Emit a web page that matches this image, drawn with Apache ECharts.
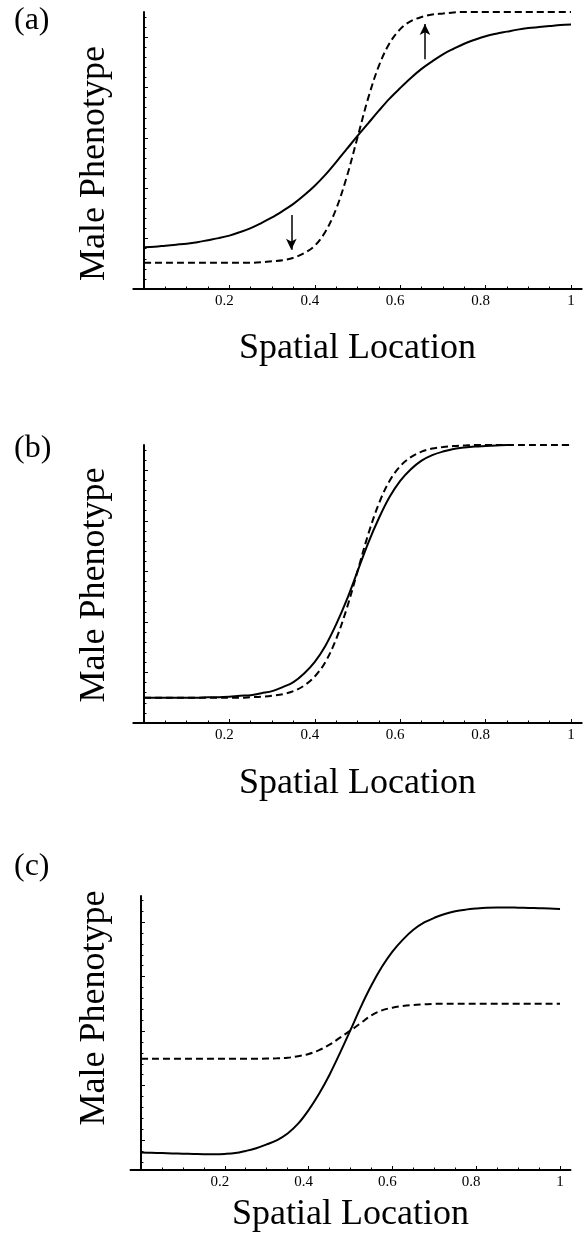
<!DOCTYPE html>
<html><head><meta charset="utf-8">
<script src="https://cdn.jsdelivr.net/npm/echarts@6/dist/echarts.min.js"></script>
<style>html,body{margin:0;padding:0;background:#fff}#c{width:584px;height:1235px}</style>
</head><body><div id="c"></div>
<script>
// shared x sample positions (Spatial Location)
const xs = [0,0.025,0.05,0.075,0.1,0.125,0.15,0.175,0.2,0.225,0.25,0.275,0.3,0.325,0.35,0.375,0.4,0.425,0.45,0.475,0.5,0.525,0.55,0.575,0.6,0.625,0.65,0.675,0.7,0.725,0.75,0.775,0.8,0.825,0.85,0.875,0.9,0.925,0.95,0.975,1];

// panel (a)
const aSolid  = [0.83,0.84,0.86,0.88,0.90,0.93,0.97,1.01,1.06,1.13,1.21,1.31,1.42,1.55,1.69,1.86,2.05,2.27,2.52,2.78,3.04,3.29,3.54,3.78,3.99,4.19,4.37,4.52,4.66,4.77,4.87,4.95,5.02,5.07,5.11,5.15,5.18,5.20,5.22,5.24,5.25];
const aDashed = [0.52,0.52,0.52,0.52,0.52,0.52,0.52,0.52,0.52,0.52,0.52,0.53,0.55,0.57,0.62,0.71,0.86,1.14,1.59,2.23,3.01,3.79,4.43,4.88,5.16,5.32,5.40,5.45,5.47,5.49,5.50,5.50,5.50,5.50,5.50,5.50,5.50,5.50,5.50,5.50,5.50];
// arrows in panel (a): [x, yFrom, yTo]
const aArrowDown = [0.345, 1.47, 0.78];
const aArrowUp   = [0.658, 4.56, 5.26];

// panel (b)
const bSolid  = [0.50,0.50,0.50,0.50,0.50,0.50,0.51,0.51,0.52,0.54,0.55,0.59,0.63,0.71,0.81,0.98,1.21,1.53,1.95,2.44,3.00,3.56,4.05,4.47,4.79,5.02,5.19,5.30,5.37,5.42,5.45,5.47,5.48,5.49,5.50];
const bDashed = [0.50,0.50,0.50,0.50,0.50,0.50,0.50,0.50,0.50,0.50,0.51,0.52,0.54,0.57,0.63,0.74,0.92,1.21,1.66,2.27,3.00,3.73,4.34,4.79,5.08,5.26,5.37,5.43,5.46,5.48,5.49,5.50,5.50,5.50,5.50,5.50,5.50,5.50,5.50,5.50,5.50];

// panel (c)
const cSolid  = [-0.23,-0.235,-0.24,-0.245,-0.25,-0.255,-0.26,-0.26,-0.255,-0.24,-0.20,-0.15,-0.08,0.00,0.12,0.30,0.55,0.85,1.20,1.60,2.02,2.45,2.84,3.18,3.46,3.68,3.86,3.99,4.08,4.15,4.20,4.23,4.25,4.265,4.27,4.27,4.265,4.26,4.255,4.25,4.24];
const cDashed = [1.49,1.49,1.49,1.49,1.49,1.49,1.49,1.49,1.49,1.49,1.49,1.49,1.495,1.50,1.51,1.54,1.58,1.65,1.75,1.88,2.01,2.15,2.29,2.38,2.43,2.46,2.48,2.49,2.50,2.50,2.50,2.50,2.50,2.50,2.50,2.50,2.50,2.50,2.50,2.50,2.50];

// tick values
const xLabels = [0.2,0.4,0.6,0.8,1];
const xMinorTicks = [0.05,0.1,0.15,0.25,0.3,0.35,0.45,0.5,0.55,0.65,0.7,0.75,0.85,0.9,0.95];
const yMajorAB = [1,2,3,4,5];
const yMajorC = [0,1,2,3,4];

const FONT = 'Liberation Serif';
const panels = [
  {label:'(a)', top:12, height:277, left:133.3, width:448.4, ymin:0, ymax:5.5, yMajor:yMajorAB, titleTop:5, xGap:42, yGap:21, yShift:13},
  {label:'(b)', top:445, height:278, left:133.3, width:448.4, ymin:0, ymax:5.5, yMajor:yMajorAB, titleTop:433, xGap:43, yGap:21, yShift:1},
  {label:'(c)', top:896, height:274, left:130.5, width:440, ymin:-0.55, ymax:4.48, yMajor:yMajorC, titleTop:851, xGap:27, yGap:18, yShift:-25}
];

function minorsFor(p){
  const out=[];
  for(let v=Math.ceil(p.ymin*5)/5; v<p.ymax; v+=0.2){
    const r=Math.round(v*10)/10;
    if(Math.abs(r-Math.round(r))>1e-6) out.push(r);
  }
  return out;
}
function pairs(arr){ return arr.map((y,i)=>[xs[i], y]); }

const grid=[], xAxis=[], yAxis=[], title=[];
panels.forEach((p,i)=>{
  grid.push({left:p.left, top:p.top, width:p.width, height:p.height});
  title.push({text:p.label, left:14, top:p.titleTop, padding:0, textStyle:{fontFamily:FONT, fontSize:32, fontWeight:'normal', color:'#000'}});
  xAxis.push({
    gridIndex:i, type:'value', min:-0.025, max:1.025, position:'bottom',
    axisLine:{onZero:false, lineStyle:{color:'#000', width:2}},
    axisTick:{inside:true, length:4, customValues:xLabels, lineStyle:{color:'#000', width:1}},
    axisLabel:{customValues:xLabels, margin:5, color:'#000', fontFamily:FONT, fontSize:15,
      formatter:function(v){ return v===1 ? '{i|1}' : '{d|'+v+'}'; },
      rich:{d:{fontFamily:FONT, fontSize:15, color:'#000', padding:[0,10,0,0]}, i:{fontFamily:FONT, fontSize:15, color:'#000'}}},
    splitLine:{show:false},
    name:'Spatial Location', nameLocation:'middle', nameGap:p.xGap,
    nameTextStyle:{fontFamily:FONT, fontSize:36, color:'#000'}
  });
  xAxis.push({
    gridIndex:i, type:'value', min:-0.025, max:1.025, position:'bottom',
    axisLine:{show:false, onZero:false},
    axisTick:{inside:true, length:2.5, customValues:xMinorTicks, lineStyle:{color:'#000', width:1}},
    axisLabel:{show:false}, splitLine:{show:false}
  });
  const pad = p.yShift>0 ? [0,2*p.yShift,0,0] : [0,0,0,-2*p.yShift];
  yAxis.push({
    gridIndex:i, type:'value', min:p.ymin, max:p.ymax, position:'left',
    axisLine:{onZero:true, lineStyle:{color:'#000', width:2}},
    axisTick:{inside:true, length:4, customValues:p.yMajor, lineStyle:{color:'#000', width:1}},
    axisLabel:{show:false}, splitLine:{show:false},
    name:'Male Phenotype', nameLocation:'middle', nameRotate:90, nameGap:p.yGap,
    nameTextStyle:{fontFamily:FONT, fontSize:36, color:'#000', padding:pad}
  });
  yAxis.push({
    gridIndex:i, type:'value', min:p.ymin, max:p.ymax, position:'left',
    axisLine:{show:false, onZero:true},
    axisTick:{inside:true, length:2.5, customValues:minorsFor(p), lineStyle:{color:'#000', width:1}},
    axisLabel:{show:false}, splitLine:{show:false}
  });
});

function line(i, data, dashed, extra){
  return Object.assign({
    type:'line', xAxisIndex:2*i, yAxisIndex:2*i, data:data, symbol:'none', showSymbol:false,
    smooth:0.35, silent:true,
    lineStyle:{color:'#000', width:2, type: dashed ? [7,4] : 'solid'}
  }, extra||{});
}

const series = [
  line(0, pairs(aDashed), true, {
    markLine:{silent:true, symbol:['none','arrow'], symbolSize:[8,11], label:{show:false},
      lineStyle:{color:'#000', width:1.5, type:'solid'},
      data:[
        [{coord:[aArrowDown[0], aArrowDown[1]]},{coord:[aArrowDown[0], aArrowDown[2]]}],
        [{coord:[aArrowUp[0], aArrowUp[1]]},{coord:[aArrowUp[0], aArrowUp[2]]}]
      ]}
  }),
  line(0, pairs(aSolid), false),
  line(1, pairs(bDashed), true),
  line(1, pairs(bSolid), false),
  line(2, pairs(cDashed), true),
  line(2, pairs(cSolid), false)
];

const chart = echarts.init(document.getElementById('c'), null, {renderer:'canvas'});
chart.setOption({animation:false, backgroundColor:'#fff', title, grid, xAxis, yAxis, series});
</script></body></html>
